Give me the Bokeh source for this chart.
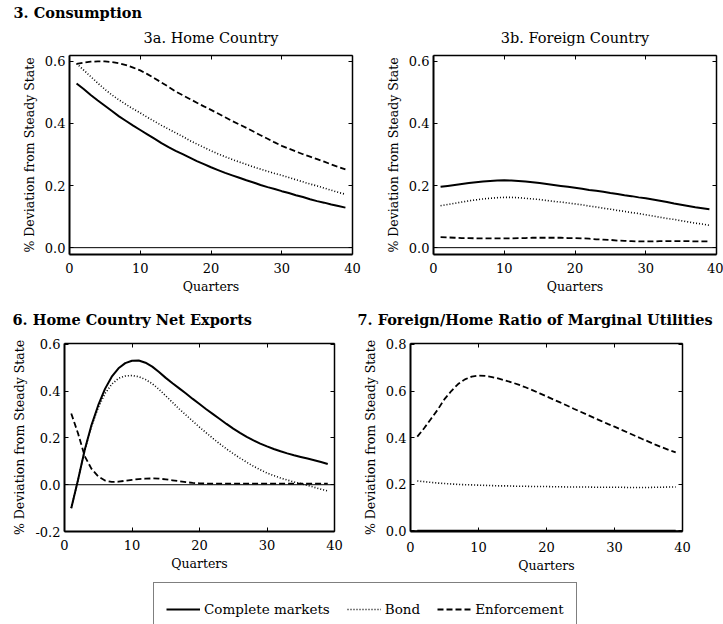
from bokeh.plotting import figure
from bokeh.models import (LinearAxis, FixedTicker, PrintfTickFormatter, Range1d,
                          Span, Title, Legend, LegendItem)
from bokeh.layouts import column, row
from bokeh.embed import file_html
from bokeh.resources import INLINE

FONT = "DejaVu Serif"

quarters = list(range(1, 40))

# 3a. Home country consumption
home_complete = [.529, .511, .492, .474, .457, .440, .423, .408, .393, .379, .365, .351, .337, .324,
                 .312, .301, .290, .279, .269, .259, .250, .241, .233, .225, .217, .210, .202, .195,
                 .189, .182, .176, .169, .163, .156, .150, .145, .139, .134, .129]
home_bond = [.593, .572, .551, .530, .510, .492, .476, .461, .447, .434, .420, .407, .394, .382,
             .370, .358, .345, .334, .323, .312, .302, .293, .284, .276, .268, .260, .253, .246,
             .239, .233, .226, .219, .212, .205, .199, .192, .185, .178, .172]
home_enf = [.592, .596, .599, .600, .600, .598, .594, .588, .580, .571, .559, .546, .532, .518,
            .503, .491, .479, .467, .455, .444, .432, .420, .408, .397, .386, .374, .362, .351,
            .339, .328, .319, .310, .301, .293, .285, .277, .268, .260, .252]

# 3b. Foreign country consumption
for_complete = [.196, .199, .202, .205, .208, .211, .213, .215, .216, .217, .216, .215, .213, .211,
                .208, .205, .202, .199, .196, .193, .190, .186, .183, .180, .176, .173, .169, .166,
                .162, .159, .155, .151, .147, .142, .138, .134, .130, .127, .124]
for_bond = [.135, .139, .143, .147, .151, .154, .157, .159, .161, .162, .162, .161, .159, .157,
            .155, .152, .149, .147, .144, .141, .138, .134, .131, .127, .124, .120, .117, .113,
            .110, .106, .102, .098, .094, .091, .087, .083, .079, .076, .072]
for_enf = [.034, .033, .032, .031, .031, .030, .030, .030, .030, .030, .030, .031, .031, .032,
           .032, .032, .032, .032, .031, .031, .030, .029, .027, .026, .025, .023, .022, .021,
           .020, .020, .020, .021, .021, .021, .021, .021, .020, .020, .020]

# 6. Home country net exports
nx_complete = [-.101, .020, .150, .255, .340, .410, .462, .498, .520, .530, .531, .522, .505, .482,
               .457, .434, .412, .390, .367, .345, .323, .302, .281, .260, .240, .222, .205, .190,
               .176, .164, .153, .143, .134, .126, .119, .112, .105, .097, .089]
nx_bond = [-.100, .020, .148, .250, .330, .390, .430, .455, .465, .467, .462, .450, .432, .408,
           .380, .352, .324, .298, .272, .246, .222, .198, .175, .153, .133, .114, .096, .079,
           .064, .050, .039, .029, .020, .012, .005, -.003, -.011, -.019, -.027]
nx_enf = [.305, .220, .122, .068, .035, .018, .012, .013, .017, .021, .024, .026, .027, .026,
          .023, .019, .015, .011, .008, .006, .005, .005, .005, .005, .005, .005, .005, .005,
          .005, .005, .005, .005, .005, .005, .005, .005, .005, .005, .005]

# 7. Foreign/Home ratio of marginal utilities
mu_complete = [0.0] * 39
mu_bond = [.214, .211, .208, .205, .203, .201, .199, .198, .197, .196, .195, .194, .193, .193,
           .192, .191, .191, .190, .190, .190, .189, .189, .188, .188, .188, .188, .187, .187,
           .187, .187, .187, .186, .186, .186, .186, .187, .187, .188, .188]
mu_enf = [.404, .440, .480, .520, .565, .600, .630, .650, .662, .666, .665, .660, .653, .645,
          .636, .626, .615, .603, .590, .577, .564, .551, .538, .524, .511, .498, .485, .472,
          .459, .447, .434, .421, .408, .395, .383, .370, .358, .347, .337]

x_ticks = [0, 10, 20, 30, 40]
y_ticks_3 = [0.0, 0.2, 0.4, 0.6]
y_ticks_6 = [-0.2, 0.0, 0.2, 0.4, 0.6]
y_ticks_7 = [0.0, 0.2, 0.4, 0.6, 0.8]

labels = ["Complete markets", "Bond", "Enforcement"]
STYLES = [dict(line_width=2.0, line_dash="solid"),
          dict(line_width=1.6, line_dash="1 2"),
          dict(line_width=1.8, line_dash="6 3")]


def style_axis(ax, ticks, fmt, lw, show_labels, standoff=5):
    ax.ticker = FixedTicker(ticks=ticks)
    ax.formatter = PrintfTickFormatter(format=fmt)
    ax.axis_line_color = "black"
    ax.axis_line_width = lw
    ax.major_tick_in = 4
    ax.major_tick_out = 0
    ax.major_tick_line_color = "black"
    ax.major_tick_line_width = 1
    ax.minor_tick_line_color = None
    ax.major_label_text_font = FONT
    ax.major_label_text_font_size = "13px"
    if show_labels:
        ax.major_label_text_color = "black"
        ax.major_label_standoff = standoff
    else:
        ax.major_label_text_color = None
        ax.major_label_standoff = 0


def panel(width, height, borders, y_rng, yticks, series, header, header_offset,
          header_standoff, header_valign, subtitle=None, xlab_standoff=8):
    left, right, top, bottom = borders
    p = figure(width=width, height=height, title=None,
               x_range=Range1d(0, 40), y_range=Range1d(*y_rng),
               output_backend="svg", toolbar_location=None,
               min_border_left=left, min_border_right=right,
               min_border_top=top, min_border_bottom=bottom,
               background_fill_color="white", border_fill_color="white",
               outline_line_color=None)
    p.grid.visible = False
    style_axis(p.xaxis[0], x_ticks, "%d", 2, True, xlab_standoff)
    style_axis(p.yaxis[0], yticks, "%.1f", 2, True, 4)
    p.xaxis.axis_label = "Quarters"
    p.yaxis.axis_label = "% Deviation from Steady State"
    for ax in (p.xaxis[0], p.yaxis[0]):
        ax.axis_label_text_font = FONT
        ax.axis_label_text_font_size = "12.5px"
        ax.axis_label_text_font_style = "normal"
        ax.axis_label_text_color = "black"
    p.xaxis.axis_label_standoff = 3
    p.yaxis.axis_label_standoff = 5
    ra = LinearAxis()
    style_axis(ra, yticks, "%.1f", 1.5, False)
    p.add_layout(ra, "right")
    ta = LinearAxis()
    style_axis(ta, x_ticks, "%d", 1.5, False)
    p.add_layout(ta, "above")
    if subtitle:
        p.add_layout(Title(text=subtitle, align="center", vertical_align="top",
                           text_font=FONT, text_font_size="14.5px", text_font_style="normal",
                           text_color="black", standoff=15), "above")
    p.add_layout(Title(text=header, align="left", offset=header_offset,
                       vertical_align=header_valign, text_font=FONT,
                       text_font_size="14.5px", text_font_style="bold",
                       text_color="black", standoff=header_standoff), "above")
    p.add_layout(Span(location=0, dimension="width", line_color="black", line_width=1))
    for vals, st in zip(series, STYLES):
        p.line(quarters, vals, line_color="black", **st)
    return p


f3a = panel(368, 296, (69, 16, 55, 39), (-0.022, 0.619), y_ticks_3,
            [home_complete, home_bond, home_enf], "3. Consumption", -56, 3, "bottom",
            subtitle="3a. Home Country")
f3b = panel(355, 296, (65, 7, 55, 39), (-0.022, 0.619), y_ticks_3,
            [for_complete, for_bond, for_enf], " ", 0, 3, "bottom",
            subtitle="3b. Foreign Country")
f6 = panel(353, 286, (64, 19, 46, 49), (-0.2, 0.604), y_ticks_6,
           [nx_complete, nx_bond, nx_enf], "6. Home Country Net Exports", -52, 28, "top")
f7 = panel(370, 286, (57, 41, 46, 51), (-0.003, 0.804), y_ticks_7,
           [mu_complete, mu_bond, mu_enf], "7. Foreign/Home Ratio of Marginal Utilities", -53,
           28, "top", xlab_standoff=10)

# legend strip: the legend renderers reuse the 3a series but lie outside this strip's ranges
lg = figure(width=723, height=42, title=None, x_range=Range1d(-3, -2), y_range=Range1d(0, 1),
            output_backend="svg", toolbar_location=None, min_border=0,
            x_axis_location=None, y_axis_location=None, outline_line_color=None)
lg.grid.visible = False
rs = [lg.line(quarters, vals, line_color="black", **st)
      for vals, st in zip([home_complete, home_bond, home_enf], STYLES)]
leg = Legend(items=[LegendItem(label=l, renderers=[r]) for l, r in zip(labels, rs)],
             location=(153, -12), orientation="horizontal",
             label_text_font=FONT, label_text_font_size="13.5px", label_text_color="black",
             glyph_width=34, glyph_height=28, label_height=28, label_standoff=4,
             spacing=17, padding=12, margin=0,
             border_line_color="black", border_line_width=1.5)
lg.add_layout(leg)

p = column(row(f3a, f3b), row(f6, f7), lg)
open("out.html", "w").write(file_html(p, INLINE))
